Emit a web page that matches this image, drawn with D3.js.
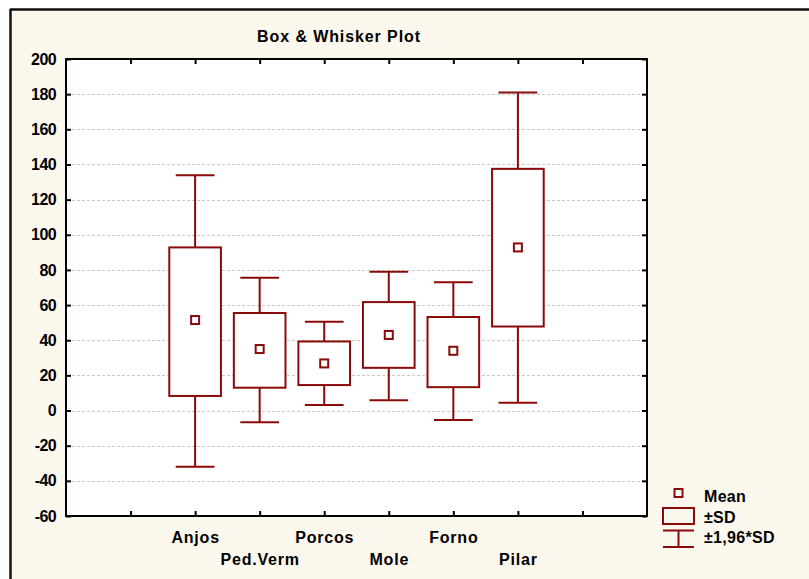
<!DOCTYPE html>
<html>
<head>
<meta charset="utf-8">
<script src="https://cdn.jsdelivr.net/npm/d3@7"></script>
<style>
  html, body { margin: 0; padding: 0; background: #ffffff; }
  svg { display: block; }
  text { font-family: "Liberation Sans", Arial, sans-serif; font-weight: bold; fill: #000; }
</style>
</head>
<body>
<svg id="chart" width="809" height="579"></svg>
<script>
// ---- data ----
const categories  = ["Anjos", "Ped.Verm", "Porcos", "Mole", "Forno", "Pilar"];
const means       = [51.5, 35, 26.8, 43, 34, 92.8];
const sdLow       = [8.3, 13, 14.5, 24.3, 13.3, 47.8];
const sdHigh      = [92.8, 55.5, 39.3, 61.7, 53.2, 137.5];
const whiskerLow  = [-32, -6.7, 3.2, 5.8, -5.4, 4.5];
const whiskerHigh = [133.8, 75.5, 50.5, 79, 73, 181];
const yTicks      = [-60, -40, -20, 0, 20, 40, 60, 80, 100, 120, 140, 160, 180, 200];
const title       = "Box & Whisker Plot";
const legendLabels = ["Mean", "\u00b1SD", "\u00b11,96*SD"];

// ---- layout ----
const W = 809, H = 579;
const plot = { left: 66, right: 647, top: 59, bottom: 516 };
const red = "#8a0a0a";
const cream = "#fdf8ee";

const svg = d3.select("#chart");

// outer frame / background
svg.append("rect").attr("x", 10).attr("y", 9).attr("width", W - 10).attr("height", H - 9).attr("fill", cream);
svg.append("line").attr("x1", 10).attr("x2", W).attr("y1", 9.5).attr("y2", 9.5).attr("stroke", "#111").attr("stroke-width", 2.5);
svg.append("line").attr("x1", 10.5).attr("x2", 10.5).attr("y1", 9).attr("y2", H).attr("stroke", "#111").attr("stroke-width", 2.5);

// scales
const xDomain = ["_pre", ...categories, "_post"];
const x = d3.scalePoint().domain(xDomain).range([plot.left, plot.right]).padding(1);
const step = x.step();
const y = d3.scaleLinear().domain([-60, 200]).range([plot.bottom, plot.top]);

// plot background
svg.append("rect")
  .attr("x", plot.left).attr("y", plot.top)
  .attr("width", plot.right - plot.left).attr("height", plot.bottom - plot.top)
  .attr("fill", "#ffffff");

// gridlines
svg.append("g").selectAll("line")
  .data(yTicks.filter(v => v > -60 && v < 200))
  .join("line")
  .attr("x1", plot.left + 6).attr("x2", plot.right - 6)
  .attr("y1", d => Math.round(y(d)) + 0.5).attr("y2", d => Math.round(y(d)) + 0.5)
  .attr("stroke", "#c8c8c8").attr("stroke-width", 1).attr("stroke-dasharray", "3,2");

// axes
const gLeft = svg.append("g").attr("transform", `translate(${plot.left},0)`)
  .call(d3.axisLeft(y).tickValues(yTicks).tickSizeInner(-5).tickSizeOuter(0).tickPadding(10)
    .tickFormat(d => String(d)));
gLeft.select(".domain").remove();
gLeft.selectAll("line").attr("stroke", "#000").attr("stroke-width", 2);
gLeft.selectAll("text").attr("font-size", 16).attr("font-family", "Liberation Sans, Arial, sans-serif")
  .attr("font-weight", "bold").attr("fill", "#000").attr("letter-spacing", "-0.6");

const gRight = svg.append("g").attr("transform", `translate(${plot.right},0)`)
  .call(d3.axisRight(y).tickValues(yTicks).tickSizeInner(-5).tickSizeOuter(0).tickFormat(""));
gRight.select(".domain").remove();
gRight.selectAll("line").attr("stroke", "#000").attr("stroke-width", 2);

const gTop = svg.append("g").attr("transform", `translate(0,${plot.top})`)
  .call(d3.axisTop(x).tickSizeInner(-5).tickSizeOuter(0).tickFormat(""));
gTop.select(".domain").remove();
gTop.selectAll("line").attr("stroke", "#000").attr("stroke-width", 2);

const gBottom = svg.append("g").attr("transform", `translate(0,${plot.bottom})`)
  .call(d3.axisBottom(x).tickSizeInner(-5).tickSizeOuter(0).tickPadding(0)
    .tickFormat(d => d.startsWith("_") ? "" : d));
gBottom.select(".domain").remove();
gBottom.selectAll("line").attr("stroke", "#000").attr("stroke-width", 2);
gBottom.selectAll("text")
  .attr("font-size", 16).attr("font-family", "Liberation Sans, Arial, sans-serif")
  .attr("font-weight", "bold").attr("fill", "#000").attr("letter-spacing", "0.8")
  .attr("dy", null)
  .attr("y", d => (categories.indexOf(d) % 2 === 0) ? 27 : 49);

// plot frame
svg.append("rect")
  .attr("x", plot.left).attr("y", plot.top)
  .attr("width", plot.right - plot.left).attr("height", plot.bottom - plot.top)
  .attr("fill", "none").attr("stroke", "#000").attr("stroke-width", 2);

// title
svg.append("text").attr("x", 339).attr("y", 42).attr("text-anchor", "middle")
  .attr("font-size", 16).attr("letter-spacing", "0.9").text(title);

// boxes
const boxW = step * 0.8, capW = step * 0.6, mk = 8;
const data = categories.map((c, i) => ({
  c, mean: means[i], lo: sdLow[i], hi: sdHigh[i], wlo: whiskerLow[i], whi: whiskerHigh[i]
}));
const g = svg.append("g").attr("stroke", red).attr("stroke-width", 2).attr("fill", "none");
const box = g.selectAll("g.box").data(data).join("g").attr("class", "box");
box.append("line").attr("x1", d => x(d.c)).attr("x2", d => x(d.c))
  .attr("y1", d => y(d.whi)).attr("y2", d => y(d.hi));
box.append("line").attr("x1", d => x(d.c)).attr("x2", d => x(d.c))
  .attr("y1", d => y(d.lo)).attr("y2", d => y(d.wlo));
box.append("line").attr("x1", d => x(d.c) - capW / 2).attr("x2", d => x(d.c) + capW / 2)
  .attr("y1", d => y(d.whi)).attr("y2", d => y(d.whi));
box.append("line").attr("x1", d => x(d.c) - capW / 2).attr("x2", d => x(d.c) + capW / 2)
  .attr("y1", d => y(d.wlo)).attr("y2", d => y(d.wlo));
box.append("rect").attr("x", d => x(d.c) - boxW / 2).attr("width", boxW)
  .attr("y", d => y(d.hi)).attr("height", d => y(d.lo) - y(d.hi)).attr("fill", "#fff");
box.append("rect").attr("x", d => x(d.c) - mk / 2).attr("width", mk)
  .attr("y", d => y(d.mean) - mk / 2).attr("height", mk).attr("fill", "#fff");

// legend
const lg = svg.append("g");
const lx = 678.5;
lg.append("rect").attr("x", lx - mk / 2).attr("y", 493 - mk / 2).attr("width", mk).attr("height", mk)
  .attr("fill", "#fff").attr("stroke", red).attr("stroke-width", 2);
lg.append("rect").attr("x", 663).attr("y", 508).attr("width", 31).attr("height", 16)
  .attr("fill", "none").attr("stroke", red).attr("stroke-width", 2);
lg.append("line").attr("x1", 663).attr("x2", 694).attr("y1", 530.5).attr("y2", 530.5).attr("stroke", red).attr("stroke-width", 2);
lg.append("line").attr("x1", 663).attr("x2", 694).attr("y1", 547).attr("y2", 547).attr("stroke", red).attr("stroke-width", 2);
lg.append("line").attr("x1", lx).attr("x2", lx).attr("y1", 530.5).attr("y2", 547).attr("stroke", red).attr("stroke-width", 2);
const legendY = [501.5, 523, 543];
lg.selectAll("text.leg").data(legendLabels).join("text").attr("class", "leg")
  .attr("x", 704).attr("y", (d, i) => legendY[i]).attr("font-size", 16).attr("letter-spacing", "0.3")
  .text(d => d);
</script>
</body>
</html>
